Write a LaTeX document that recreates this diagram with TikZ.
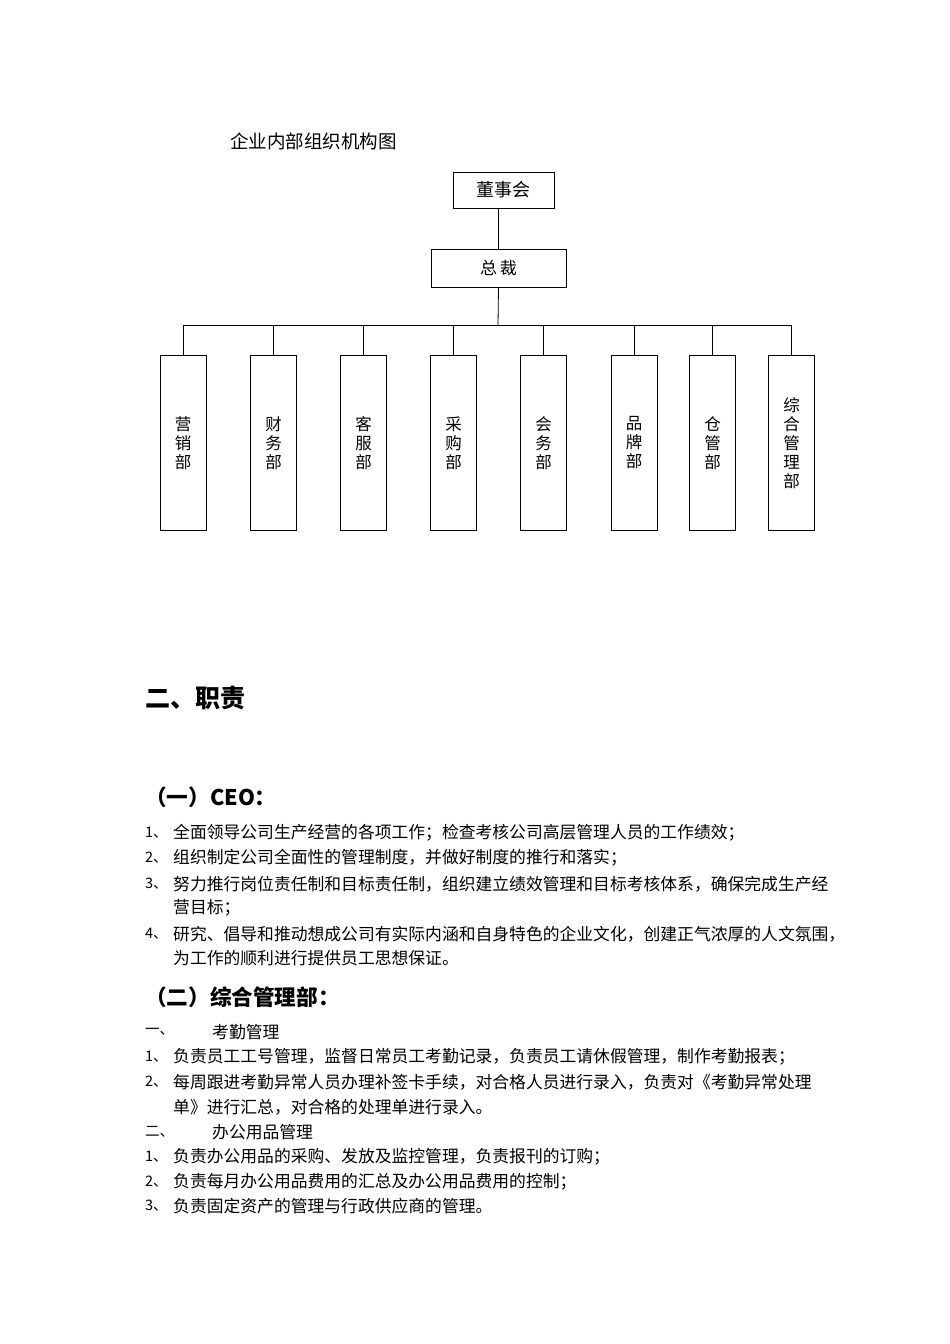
\documentclass[tikz,border=0pt]{standalone}
\usepackage{fontspec}
\setmainfont{Liberation Serif}
\newfontfamily\cjk{Noto Sans CJK SC}
\begin{document}
\begin{tikzpicture}[x=1pt,y=-1pt,
  box/.style={draw,line width=0.8pt,inner sep=0pt},
  dept/.style={draw,line width=0.8pt,minimum width=46pt,minimum height=175pt,anchor=north,font=\cjk\fontsize{16.5}{19}\selectfont,align=center,inner sep=0pt},
  txt/.style={anchor=west,inner sep=0pt,font=\cjk\fontsize{16.8}{18}\selectfont},
  num/.style={anchor=west,inner sep=0pt,font=\cjk\fontsize{14.5}{18}\selectfont},
  hd/.style={anchor=west,inner sep=0pt,font=\cjk\bfseries\fontsize{21.6}{24}\selectfont},
  conn/.style={line width=0.8pt}]
\useasboundingbox (0,0) rectangle (950,1344);
\node[anchor=west,inner sep=0pt,font=\cjk\fontsize{18.5}{20}\selectfont] (title) at (230,141) {企业内部组织机构图};
\node[box,minimum width=101pt,minimum height=36pt,font=\cjk\fontsize{18}{20}\selectfont] (board) at (503.5,190) {董事会};
\node[box,minimum width=135pt,minimum height=38pt,font=\cjk\fontsize{17}{20}\selectfont] (ceo) at (498.5,268) {总\,裁};
\coordinate (busL) at (183,325);
\coordinate (busR) at (791,325);
\coordinate (busM) at (498,325);
\draw[conn] (498,208) -- (498,249);
\draw[conn] (ceo.south) -- (busM);
\draw[conn] (busL) -- (busR);
\foreach \n/\x/\t in {d1/183/营\\销\\部, d2/273.5/财\\务\\部, d3/363.5/客\\服\\部, d4/453.5/采\\购\\部, d5/543.5/会\\务\\部, d6/634/品\\牌\\部, d7/712.5/仓\\管\\部, d8/791.5/综\\合\\管\\理\\部}{
  \node[dept] (\n) at (\x,355) {\t};
  \draw[conn] (\x,325) -- (\n.north);
}
\node[hd,font=\cjk\bfseries\fontsize{25}{28}\selectfont] (h1) at (145,698) {二、职责};
\node[hd] (h2) at (145,797) {（一）CEO：};
\foreach \y/\nn/\t in {
833/1、/全面领导公司生产经营的各项工作；检查考核公司高层管理人员的工作绩效；,
858/2、/组织制定公司全面性的管理制度，并做好制度的推行和落实；,
884/3、/努力推行岗位责任制和目标责任制，组织建立绩效管理和目标考核体系，确保完成生产经,
934/4、/研究、倡导和推动想成公司有实际内涵和自身特色的企业文化，创建正气浓厚的人文氛围，
}{
  \node[num] at (145,\y) {\nn};
  \node[txt] at (173,\y) {\t};
}
\node[txt] at (173,908) {营目标；};
\node[txt] at (173,958) {为工作的顺利进行提供员工思想保证。};
\node[hd] (h3) at (145,997) {（二）综合管理部：};
\node[num] at (145,1032) {一、};
\node[txt] at (212,1032) {考勤管理};
\node[num] at (145,1057) {1、};
\node[txt] at (173,1057) {负责员工工号管理，监督日常员工考勤记录，负责员工请休假管理，制作考勤报表；};
\node[num] at (145,1082) {2、};
\node[txt] at (173,1082) {每周跟进考勤异常人员办理补签卡手续，对合格人员进行录入，负责对《考勤异常处理};
\node[txt] at (173,1107) {单》进行汇总，对合格的处理单进行录入。};
\node[num] at (145,1132) {二、};
\node[txt] at (212,1132) {办公用品管理};
\node[num] at (145,1157) {1、};
\node[txt] at (173,1157) {负责办公用品的采购、发放及监控管理，负责报刊的订购；};
\node[num] at (145,1182) {2、};
\node[txt] at (173,1182) {负责每月办公用品费用的汇总及办公用品费用的控制；};
\node[num] at (145,1206) {3、};
\node[txt] at (173,1206) {负责固定资产的管理与行政供应商的管理。};
\end{tikzpicture}
\end{document}
